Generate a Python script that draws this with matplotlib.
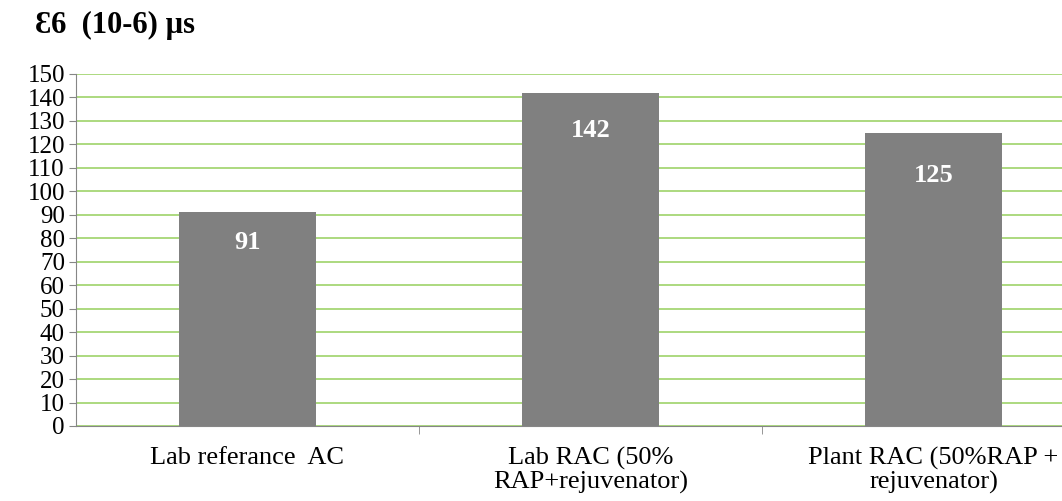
import matplotlib.pyplot as plt

# Dados do gráfico
categorias = ['Lab referance  AC', 'Lab RAC (50%\nRAP+rejuvenator)', 'Plant RAC (50%RAP +\nrejuvenator)']
valores = [91, 142, 125]
yticks = list(range(0, 151, 10))

plt.rcParams['font.family'] = ['Liberation Serif', 'DejaVu Serif']

fig = plt.figure(figsize=(10.62, 5.01), dpi=100)
ax = fig.add_axes([76 / 1062, 75 / 501, 1029 / 1062, 352 / 501])

x = list(range(len(valores)))
ax.bar(x, valores, width=0.4, color='#808080', zorder=3)

# deslocamento vertical (px) dos rótulos dentro das barras
offsets_px = [30, 38, 43]
for xi, v, off in zip(x, valores, offsets_px):
    ax.annotate(str(v), (xi, v), xytext=(0, -off * 72 / 100), textcoords='offset points',
                ha='center', va='center', color='white', fontsize=19, fontweight='bold', zorder=4)

ax.set_xlim(-0.5, 2.5)
ax.set_ylim(0, 150)
ax.set_yticks(yticks)
ax.set_yticklabels([str(t) for t in yticks], fontsize=18)
ax.grid(axis='y', color='#9ed36a', linewidth=1.2, zorder=0)

ax.set_xticks(x)
ax.set_xticklabels(categorias, fontsize=19, linespacing=1.05)
ax.tick_params(axis='x', length=0, pad=15)
ax.set_xticks([0.5, 1.5], minor=True)
ax.tick_params(axis='x', which='minor', length=6, color='#868686')
ax.tick_params(axis='y', length=5, color='#868686', pad=3)

for s in ['top', 'right']:
    ax.spines[s].set_visible(False)
for s in ['left', 'bottom']:
    ax.spines[s].set_color('#868686')

fig.text(35 / 1062, 1 - 33 / 501, 'Ɛ6  (10-6) µs', fontsize=22, fontweight='bold',
         ha='left', va='baseline')

fig.savefig('out.png', dpi=100)
